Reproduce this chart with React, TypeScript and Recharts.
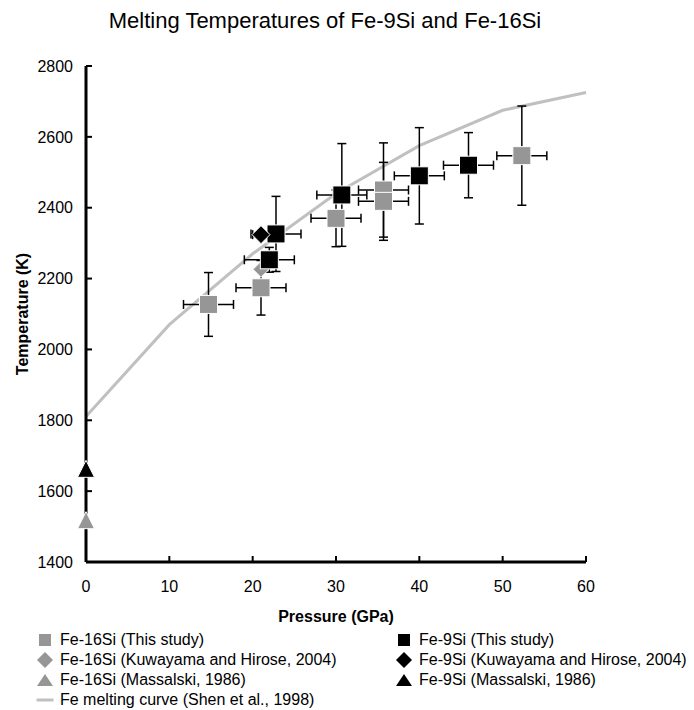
import React from "react";
import { ComposedChart, Line, Scatter, XAxis, YAxis, ErrorBar } from "recharts";

// Fe-16Si, this study (pressure GPa, temperature K, errors)
const fe16Pressure = [14.7, 21.0, 30.0, 35.7, 35.7, 52.3];
const fe16Temp = [2127, 2174, 2370, 2450, 2418, 2547];
const fe16PErr = [3, 3, 3, 3, 3, 3];
const fe16TErr = [90, 77, 80, 133, 110, 140];

// Fe-9Si, this study
const fe9Pressure = [22.0, 22.8, 30.7, 40.0, 45.9];
const fe9Temp = [2253, 2326, 2436, 2490, 2520];
const fe9PErr = [3, 3, 3, 3, 3];
const fe9TErr = [35, 106, 145, 136, 92];

// Kuwayama and Hirose, 2004
const kuwa16Pressure = [21.0];
const kuwa16Temp = [2226];
const kuwa9Pressure = [21.0];
const kuwa9Temp = [2324];
const kuwa9PErr = [1];

// Massalski, 1986 (1 bar)
const mass16Pressure = [0];
const mass16Temp = [1518];
const mass9Pressure = [0];
const mass9Temp = [1663];

// Fe melting curve, Shen et al. 1998
const shenPressure = [0, 10, 20, 30, 40, 50, 60];
const shenTemp = [1811, 2070, 2270, 2440, 2575, 2675, 2725];

const xTicks = [0, 10, 20, 30, 40, 50, 60];
const yTicks = [1400, 1600, 1800, 2000, 2200, 2400, 2600, 2800];

const GRAY = "#969696";
const LIGHT = "#c0c0c0";
const FONT = "'Liberation Sans', Arial, sans-serif";

const rows = (p: number[], t: number[], pe?: number[], te?: number[]) =>
  p.map((x, i) => ({ p: x, t: t[i], pErr: pe ? pe[i] : 0, tErr: te ? te[i] : 0 }));

const square = (fill: string, s: number) => (props: any) => (
  <rect x={props.cx - s / 2} y={props.cy - s / 2} width={s} height={s} fill={fill} stroke="#fff" strokeWidth={1} />
);
const diamond = (fill: string, s: number) => (props: any) => {
  const { cx, cy } = props;
  const h = s / 2;
  return <polygon points={`${cx},${cy - h} ${cx + h},${cy} ${cx},${cy + h} ${cx - h},${cy}`} fill={fill} stroke="#fff" strokeWidth={1} />;
};
const triangle = (fill: string, s: number) => (props: any) => {
  const { cx, cy } = props;
  const h = s / 2;
  return <polygon points={`${cx},${cy - h} ${cx + h},${cy + h} ${cx - h},${cy + h}`} fill={fill} stroke="#fff" strokeWidth={1} />;
};

const YLabel = () => (
  <text x={22} y={314} transform="rotate(-90 22 314)" textAnchor="middle" dominantBaseline="central"
    fontFamily={FONT} fontSize={16} fontWeight="bold" fill="#000">
    Temperature (K)
  </text>
);
const XLabel = () => (
  <text x={336} y={616} textAnchor="middle" dominantBaseline="central"
    fontFamily={FONT} fontSize={16} fontWeight="bold" fill="#000">
    Pressure (GPa)
  </text>
);

const LegendIcon = ({ kind, fill }: { kind: string; fill: string }) => (
  <svg width={18} height={18} style={{ position: "absolute", left: -9, top: 1 }}>
    {kind === "square" && <rect x={3} y={3} width={12} height={12} fill={fill} />}
    {kind === "diamond" && <polygon points="9,1 17,9 9,17 1,9" fill={fill} />}
    {kind === "triangle" && <polygon points="9,3 17,15 1,15" fill={fill} />}
    {kind === "line" && <line x1={0.5} y1={9} x2={17.5} y2={9} stroke={LIGHT} strokeWidth={3} />}
  </svg>
);

const legendItems = [
  { col: 0, row: 0, kind: "square", fill: GRAY, text: "Fe-16Si (This study)" },
  { col: 0, row: 1, kind: "diamond", fill: GRAY, text: "Fe-16Si (Kuwayama and Hirose, 2004)" },
  { col: 0, row: 2, kind: "triangle", fill: GRAY, text: "Fe-16Si (Massalski, 1986)" },
  { col: 0, row: 3, kind: "line", fill: LIGHT, text: "Fe melting curve (Shen et al., 1998)" },
  { col: 1, row: 0, kind: "square", fill: "#000", text: "Fe-9Si (This study)" },
  { col: 1, row: 1, kind: "diamond", fill: "#000", text: "Fe-9Si (Kuwayama and Hirose, 2004)" },
  { col: 1, row: 2, kind: "triangle", fill: "#000", text: "Fe-9Si (Massalski, 1986)" },
];

export default function App() {
  return (
    <div style={{ position: "absolute", left: 0, top: 0, width: 694, height: 710, background: "#fff", fontFamily: FONT }}>
      <div style={{ position: "absolute", left: 0, top: 10, width: 650, textAlign: "center", fontSize: 22, lineHeight: "22px", color: "#000" }}>
        Melting Temperatures of Fe-9Si and Fe-16Si
      </div>
      <ComposedChart width={694} height={710} margin={{ top: 66, right: 108, bottom: 118, left: 0 }}>
        <XAxis
          type="number"
          dataKey="p"
          domain={[0, 60]}
          ticks={xTicks}
          height={30}
          axisLine={{ stroke: "#000", strokeWidth: 3 }}
          tickLine={{ stroke: "#000", strokeWidth: 2 }}
          tickSize={-6}
          tickMargin={25}
          tick={{ fill: "#000", fontSize: 16, fontFamily: FONT }}
          label={<XLabel />}
        />
        <YAxis
          type="number"
          dataKey="t"
          domain={[1400, 2800]}
          ticks={yTicks}
          width={86}
          axisLine={{ stroke: "#000", strokeWidth: 3 }}
          tickLine={{ stroke: "#000", strokeWidth: 2 }}
          tickSize={-6}
          tickMargin={19}
          tick={{ fill: "#000", fontSize: 16, fontFamily: FONT }}
          label={<YLabel />}
        />
        <Line
          data={rows(shenPressure, shenTemp)}
          dataKey="t"
          stroke={LIGHT}
          strokeWidth={3}
          dot={false}
          isAnimationActive={false}
        />
        <Scatter data={rows(fe16Pressure, fe16Temp, fe16PErr, fe16TErr)} shape={square(GRAY, 18)} isAnimationActive={false}>
          <ErrorBar dataKey="tErr" direction="y" width={4.5} stroke="#000" strokeWidth={1.5} />
          <ErrorBar dataKey="pErr" direction="x" width={4.5} stroke="#000" strokeWidth={1.5} />
        </Scatter>
        <Scatter data={rows(kuwa16Pressure, kuwa16Temp)} shape={diamond(GRAY, 16)} isAnimationActive={false} />
        <Scatter data={rows(fe9Pressure, fe9Temp, fe9PErr, fe9TErr)} shape={square("#000", 18)} isAnimationActive={false}>
          <ErrorBar dataKey="tErr" direction="y" width={4.5} stroke="#000" strokeWidth={1.5} />
          <ErrorBar dataKey="pErr" direction="x" width={4.5} stroke="#000" strokeWidth={1.5} />
        </Scatter>
        <Scatter data={rows(kuwa9Pressure, kuwa9Temp, kuwa9PErr)} shape={diamond("#000", 18)} isAnimationActive={false}>
          <ErrorBar dataKey="pErr" direction="x" width={4.5} stroke="#000" strokeWidth={1.5} />
        </Scatter>
        <Scatter data={rows(mass16Pressure, mass16Temp)} shape={triangle(GRAY, 17)} isAnimationActive={false} />
        <Scatter data={rows(mass9Pressure, mass9Temp)} shape={triangle("#000", 17)} isAnimationActive={false} />
      </ComposedChart>
      {legendItems.map((it) => (
        <div
          key={it.text}
          style={{
            position: "absolute",
            left: it.col === 0 ? 45 : 404,
            top: 630 + it.row * 20,
            height: 20,
            lineHeight: "20px",
            fontSize: 16,
            color: "#000",
            whiteSpace: "nowrap",
          }}
        >
          <LegendIcon kind={it.kind} fill={it.fill} />
          <span style={{ position: "absolute", left: 15 }}>{it.text}</span>
        </div>
      ))}
    </div>
  );
}
